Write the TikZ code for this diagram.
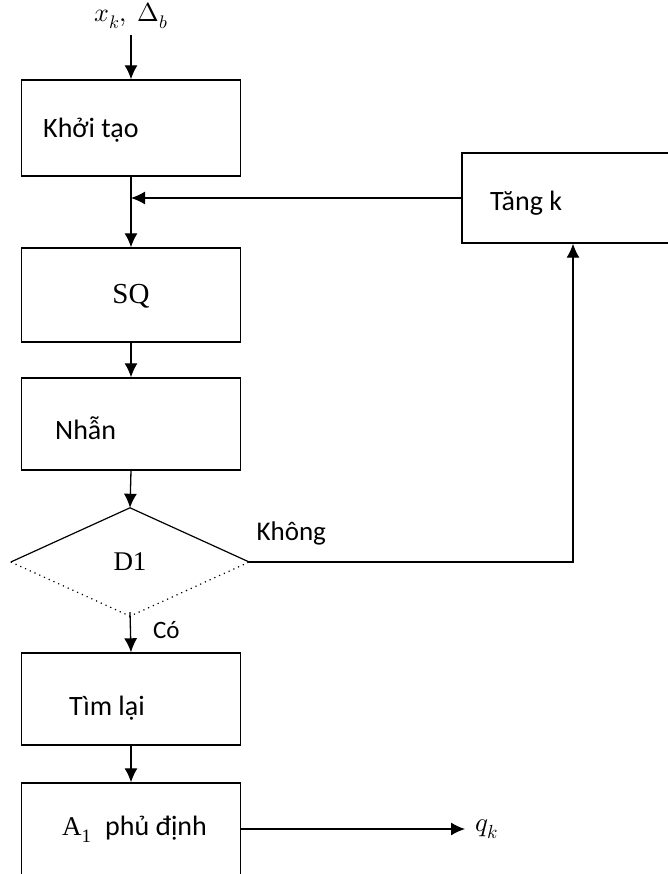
\documentclass[tikz,border=0pt]{standalone}
\usepackage{fontspec}
\usepackage{unicode-math}
\setmainfont{Liberation Serif}
\setsansfont{Carlito}
\setmathfont{Latin Modern Math}
\usetikzlibrary{arrows.meta, positioning, shapes.geometric}
\tikzset{
	stepbox/.style={draw, line width=1.4pt, minimum width=219pt, minimum height=94pt, inner sep=0pt},
	boxtxt/.style={font=\sffamily\fontsize{28}{32}\selectfont, inner sep=0pt, anchor=west},
	serftxt/.style={font=\fontsize{27}{30}\selectfont, inner sep=0pt},
	flowarr/.style={-{Latex[length=14pt,width=13pt]}, line width=1.3pt},
}

\begin{document}
\begin{tikzpicture}[x=1pt, y=-1pt]
	\useasboundingbox (0,0) rectangle (668,874);
	\clip (0,0) rectangle (668,874);

	% Main column
	\node[stepbox, minimum height=96pt] (khoi) at (131,128) {};
	\node[stepbox] (sq) at (131,295) {};
	\node[stepbox, minimum height=92pt] (nhan) at (131,424) {};
	\node[diamond, minimum width=238pt, minimum height=108pt, inner sep=0pt, serftxt] (d1) at (130,562) {D1};
	\node[stepbox, minimum height=92pt] (timlai) at (131,699) {};
	\node[stepbox, minimum height=100pt] (phudinh) at (131,833) {};

	% Loop box
	\node[stepbox, minimum width=222pt, minimum height=90pt] (tang) at (573,198) {};

	% Texts
	\node[font=\fontsize{26}{28}\selectfont, inner sep=0pt] (input) at (131,16) {$x_k,\ \Delta_b$};
	\node[boxtxt] (khoitxt) at (43,130) {Khởi tạo};
	\node[serftxt, font=\fontsize{29}{32}\selectfont] (sqtxt) at (131,296) {SQ};
	\node[boxtxt] (nhantxt) at (55,428) {Nhẫn};
	\node[boxtxt] (timtxt) at (69,708) {Tìm lại};
	\node[serftxt, anchor=west] (pdtxt) at (62,829) {A\textsubscript{1}\ \ \sffamily\fontsize{28}{32}\selectfont phủ định};
	\node[boxtxt] (tangtxt) at (490,203) {Tăng k};
	\node[font=\fontsize{27}{29}\selectfont, inner sep=0pt, anchor=west] (out) at (475,829) {$q_k$};

	% Decision diamond
	\draw[line width=1.2pt] (d1.west) -- (d1.north) -- (d1.east);
	\draw[line width=1.2pt, loosely dotted] (d1.west) -- (d1.south) -- (d1.east);

	% Arrows
	\coordinate (join) at (tang.west -| khoi.south);
	\coordinate (outgo) at (pdtxt.west -| phudinh.east);
	\draw[flowarr] (input.south |- 0,35) -- (khoi.north);
	\draw[flowarr] (khoi.south) -- (sq.north);
	\draw[flowarr] (tang.west) -- (join);
	\draw[flowarr] (sq.south) -- (nhan.north);
	\draw[flowarr] (nhan.south) -- (d1.north);
	\draw[flowarr] ([yshift=4pt]d1.south) -- (timlai.north) node[pos=0.45, right=22pt, inner sep=0pt, font=\sffamily\fontsize{25}{28}\selectfont] {Có};
	\draw[flowarr] (d1.east) -| (tang.south) node[pos=0.065, above=16pt, inner sep=0pt, font=\sffamily\fontsize{27}{30}\selectfont] {Không};
	\draw[flowarr] (timlai.south) -- (phudinh.north);
	\draw[flowarr] (outgo) -- (out.west -| 465,0);
\end{tikzpicture}
\end{document}
